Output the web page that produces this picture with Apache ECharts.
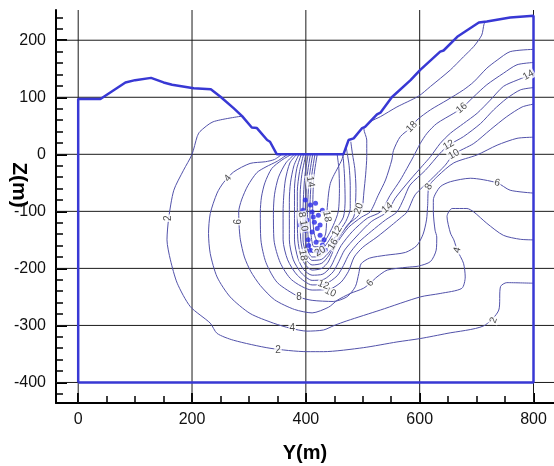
<!DOCTYPE html>
<html>
<head>
<meta charset="utf-8">
<title>Contours Y-Z</title>
<script src="https://cdn.jsdelivr.net/npm/echarts@6/dist/echarts.min.js"></script>
<style>
  body { margin: 0; background: #fff; }
  #main { width: 554px; height: 466px; }
</style>
</head>
<body>
<div id="main"></div>
<script>
  // axis ranges and ticks
  var xRange = [-39, 836];
  var yRange = [-436, 253];
  var xMajor = [0, 200, 400, 600, 800];
  var xMinor = [50, 100, 150, 250, 300, 350, 450, 500, 550, 650, 700, 750];
  var yMajor = [-400, -300, -200, -100, 0, 100, 200];
  var yMinor = [-420, -380, -360, -340, -320, -280, -260, -240, -220, -180, -160, -140, -120,
                -80, -60, -40, -20, 20, 40, 60, 80, 120, 140, 160, 180, 220, 240];

  // model outline (Y, Z)
  var boundary = [[0,-400],[0,97],[39,97],[83,126],[100,130],[128,134],[150,126],[165,122],[203,116],
    [233,114],[250,101],[273,81],[288,67],[305,47],[314,46],[332,25],[337,22],[349,0],[466,0],
    [475,25],[484,28],[499,46],[504,48],[525,70],[531,73],[551,100],[584,130],[601,148],[636,180],
    [642,182],[666,206],[704,231],[718,233],[759,240],[800,243],[800,-400],[0,-400]];

  // contour lines, one array per level
  var c2 = [[288,67],[237,57],[214,40],[209,31],[200,0],[185,-28],[168,-63],[159,-112],[156,-150],
    [162,-185],[174,-226],[197,-267],[232,-296],[244,-314],[273,-326],[337,-340],[402,-346],[431,-346],
    [501,-339],[560,-329],[601,-323],[648,-314],[712,-301],[739,-273],[742,-232],[753,-225],[800,-226]];
  var c4 = [[358,0],[345,-9],[329,-13],[302,-16],[273,-31],[255,-50],[244,-68],[232,-104],[229,-139],
    [232,-174],[244,-215],[267,-250],[302,-279],[343,-296],[373,-305],[402,-310],[431,-308],[450,-300],
    [472,-292],[531,-273],[601,-250],[636,-244],[674,-235],[680,-215],[677,-191],[666,-168],[660,-150],
    [654,-138],[648,-109],[657,-95],[683,-95],[695,-101],[718,-121],[747,-142],[777,-149],[800,-150]];
  var c6 = [[368,0],[350,-12],[330,-22],[314,-32],[298,-55],[287,-80],[282,-101],[283,-130],[285,-150],
    [292,-180],[303,-205],[320,-230],[345,-255],[380,-272],[411,-278],[440,-268],[455,-256],[478,-244],
    [501,-235],[513,-226],[525,-215],[543,-203],[578,-198],[598,-196],[619,-188],[629,-168],[630,-145],
    [627,-133],[624,-101],[624,-80],[636,-57],[654,-48],[689,-42],[736,-50],[759,-63],[800,-68]];
  var c8 = [[375,0],[358,-10],[340,-25],[328,-50],[322,-75],[320,-101],[321,-150],[330,-190],[350,-225],
    [388,-250],[411,-256],[448,-258],[472,-250],[487,-232],[493,-209],[497,-192],[512,-182],[540,-177],
    [575,-172],[595,-160],[606,-140],[612,-115],[614,-90],[616,-57],[632,-38],[660,-15],[701,-1],
    [736,16],[771,28],[800,30]];
  var c10 = [[380,0],[365,-15],[352,-40],[345,-70],[343,-101],[344,-150],[355,-190],[375,-220],[411,-238],
    [443,-236],[462,-224],[475,-205],[485,-180],[500,-163],[525,-145],[550,-125],[568,-110],[578,-101],
    [592,-71],[619,-45],[645,-19],[660,0],[695,19],[724,43],[753,66],[780,83],[800,88]];
  var c12 = [[384,0],[372,-15],[364,-45],[361,-75],[360,-101],[360,-150],[368,-185],[385,-212],[411,-229],
    [435,-227],[455,-213],[466,-195],[476,-175],[492,-155],[515,-135],[540,-115],[560,-101],[572,-78],
    [583,-54],[610,-28],[636,2],[651,16],[677,31],[707,54],[730,78],[753,98],[777,113],[800,117]];
  var c14 = [[388,0],[379,-20],[373,-50],[371,-80],[371,-101],[371,-150],[378,-185],[392,-208],[411,-221],
    [432,-219],[448,-206],[458,-188],[468,-168],[488,-145],[515,-118],[543,-101],[557,-77],[583,-45],
    [605,-20],[619,-4],[636,19],[654,37],[677,54],[701,72],[724,95],[747,119],[771,130],[800,141]];
  var c16 = [[392,0],[384,-25],[380,-60],[380,-101],[380,-150],[386,-182],[396,-202],[411,-212],[430,-210],
    [443,-198],[452,-180],[462,-160],[482,-135],[508,-112],[531,-101],[548,-72],[566,-45],[589,-4],
    [601,19],[613,37],[630,54],[660,72],[674,81],[695,101],[718,122],[747,142],[771,157],[800,161]];
  var c18 = [[396,0],[389,-30],[385,-65],[385,-101],[386,-150],[391,-178],[400,-195],[411,-203],[428,-200],
    [439,-189],[447,-172],[457,-152],[475,-128],[498,-110],[513,-101],[527,-72],[540,-45],[551,-10],
    [554,7],[566,31],[586,48],[595,60],[619,78],[648,95],[677,113],[695,127],[718,151],[736,165],
    [759,180],[800,184]];
  var c20 = [[400,0],[393,-35],[390,-70],[390,-101],[391,-150],[396,-175],[403,-188],[411,-194],[428,-191],
    [440,-178],[450,-160],[462,-140],[478,-120],[492,-108],[499,-95],[502,-66],[505,-36],[507,-4],
    [507,25],[502,44],[513,57],[531,66],[560,83],[598,102],[619,119],[654,148],[677,171],[695,189],
    [709,209],[713,228],[716,233]];
  var c22 = [[404,0],[398,-40],[395,-101],[395,-150],[400,-172],[411,-186],[428,-184],[442,-170],
    [455,-150],[470,-128],[484,-110],[487,-90],[488,-60],[486,-25],[482,0],[479,22]];
  var c24 = [[408,0],[402,-40],[399,-101],[399,-150],[403,-168],[411,-180],[426,-178],[440,-162],
    [455,-140],[470,-118],[478,-95],[478,-55],[476,-20],[473,0],[471,12]];
  var c26 = [[412,0],[406,-40],[403,-101],[404,-145],[411,-172],[425,-170],[438,-155],[452,-132],
    [466,-110],[469,-80],[468,-40],[466,-10],[465,0]];
  var c28 = [[416,0],[410,-40],[407,-101],[409,-140],[414,-162],[425,-162],[436,-148],[448,-125],
    [457,-100],[459,-60],[458,-25],[455,0]];
  var c30 = [[420,0],[414,-40],[412,-101],[414,-135],[420,-152],[428,-152],[435,-138],[437,-101],
    [440,-68],[443,-51],[448,-39],[457,-22],[463,-10],[466,0]];
  var contourLines = [c2, c4, c6, c8, c10, c12, c14, c16, c18, c20, c22, c24, c26, c28, c30];

  // contour labels
  var labelPos = [[159,-112],[351,-343],[730,-291],[263,-42],[376,-305],[666,-168],[282,-118],[513,-226],
    [736,-50],[388,-250],[616,-57],[443,-242],[431,-229],[660,0],[651,16],[543,-94],[791,139],[674,81],
    [586,48],[493,-95],[408,-48],[395,-118],[395,-177],[437,-109],[455,-135],[448,-158],[425,-170]];
  var labelText = ['2','2','2','4','4','4','6','6','6','8','8','10','12','10','12','14','14','16',
    '18','20','14','8 10','18','18','12','16','20'];
  var labelAngle = [90,0,70,50,0,75,90,50,-15,0,60,-25,-20,30,30,40,30,40,45,70,-80,-80,-80,-80,60,60,30];

  // dense blobs at the source
  var hotSpots = [[399,-80],[408,-89],[417,-86],[395,-98],[411,-101],[422,-107],[402,-115],[415,-119],
    [425,-124],[399,-133],[411,-136],[425,-142],[404,-150],[418,-154],[429,-159],[408,-168],[422,-171],
    [434,-168],[390,-124],[429,-98],[413,-110],[420,-130],[405,-160],[432,-150]];

  var chart = echarts.init(document.getElementById('main'), null, {renderer: 'canvas'});

  var lineColor = '#5252aa';
  var series = [];

  // grid lines at the major ticks, under everything else
  xMajor.forEach(function (v) {
    series.push({
      type: 'line', data: [[v, yRange[0]], [v, yRange[1]]], symbol: 'none', z: 1, silent: true,
      lineStyle: {color: '#1a1a1a', width: 1}
    });
  });
  yMajor.forEach(function (v) {
    series.push({
      type: 'line', data: [[xRange[0], v], [xRange[1], v]], symbol: 'none', z: 1, silent: true,
      lineStyle: {color: '#1a1a1a', width: 1}
    });
  });

  contourLines.forEach(function (c) {
    series.push({
      type: 'line', data: c, symbol: 'none', smooth: 0.25, z: 2, silent: true,
      lineStyle: {color: lineColor, width: 1}
    });
  });
  series.push({
    type: 'line', data: boundary, symbol: 'none', z: 4, silent: true,
    lineStyle: {color: '#3838d4', width: 2.5}
  });
  series.push({
    type: 'scatter', data: hotSpots, symbol: 'circle', symbolSize: 5, z: 5, silent: true,
    itemStyle: {color: '#2a2ae8'}
  });
  series.push({
    type: 'scatter', z: 6, silent: true, symbolSize: 1,
    itemStyle: {color: 'rgba(255,255,255,0)'},
    data: labelPos.map(function (p, i) {
      return {
        value: p,
        label: {
          show: true, position: 'inside', formatter: labelText[i], rotate: labelAngle[i],
          fontSize: 10, color: '#1a1a1a', fontFamily: 'Liberation Sans',
          backgroundColor: '#fff', padding: [0, 1]
        }
      };
    })
  });

  var option = {
    animation: false,
    backgroundColor: '#fff',
    grid: {left: 56, right: 0, top: 10, bottom: 63},
    xAxis: [
      {
        type: 'value', min: xRange[0], max: xRange[1], position: 'bottom',
        axisLine: {show: true, onZero: false, lineStyle: {color: '#000', width: 2}},
        axisTick: {show: true, inside: true, length: 10, customValues: xMajor,
                   lineStyle: {color: '#000', width: 2}},
        axisLabel: {customValues: xMajor, fontSize: 16, color: '#111', margin: 9,
                    fontFamily: 'Liberation Sans'},
        splitLine: {show: false}
      },
      {
        type: 'value', min: xRange[0], max: xRange[1], position: 'bottom',
        axisLine: {show: false, onZero: false},
        axisTick: {show: true, inside: true, length: 7, customValues: xMinor,
                   lineStyle: {color: '#000', width: 1.5}},
        axisLabel: {show: false},
        splitLine: {show: false}
      }
    ],
    yAxis: [
      {
        type: 'value', min: yRange[0], max: yRange[1], position: 'left',
        axisLine: {show: true, onZero: false, lineStyle: {color: '#000', width: 2}},
        axisTick: {show: true, inside: true, length: 11, customValues: yMajor,
                   lineStyle: {color: '#000', width: 2}},
        axisLabel: {customValues: yMajor, fontSize: 16, color: '#111', margin: 10,
                    fontFamily: 'Liberation Sans'},
        splitLine: {show: false}
      },
      {
        type: 'value', min: yRange[0], max: yRange[1], position: 'left',
        axisLine: {show: false, onZero: false},
        axisTick: {show: true, inside: true, length: 7, customValues: yMinor,
                   lineStyle: {color: '#000', width: 1.5}},
        axisLabel: {show: false},
        splitLine: {show: false}
      }
    ],
    graphic: [
      {type: 'text', x: 305, y: 453, silent: true,
       style: {text: 'Y(m)', font: 'bold 20px "Liberation Sans"', fill: '#000',
               textAlign: 'center', textVerticalAlign: 'middle', align: 'center', verticalAlign: 'middle'}},
      {type: 'text', x: 19, y: 185, rotation: -Math.PI / 2, silent: true,
       style: {text: 'Z(m)', font: 'bold 21px "Liberation Sans"', fill: '#000',
               textAlign: 'center', textVerticalAlign: 'middle', align: 'center', verticalAlign: 'middle'}}
    ],
    series: series
  };

  chart.setOption(option);
</script>
</body>
</html>
